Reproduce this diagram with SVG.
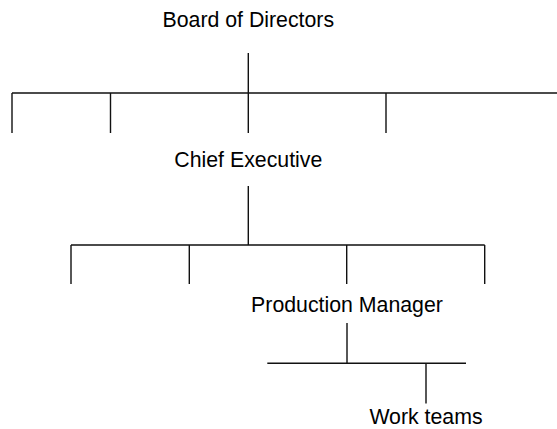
<svg xmlns="http://www.w3.org/2000/svg" width="557" height="429" viewBox="0 0 557 429">
<style>
.lbl{font-family:"Liberation Sans",Arial,Helvetica,sans-serif;font-size:21.3px;fill:#000;text-anchor:middle}
.ln{stroke:#111;stroke-width:1.4;fill:none}
</style>
<rect width="557" height="429" fill="#fff"/>
<g id="connectors">
<path class="ln" d="M248.3,53 V133 M12,93 H557 M12,93 V133 M110.5,93 V133 M386,93 V133"/>
<path class="ln" d="M248.3,186 V245 M71,245 H484.7 M71,245 V284 M189.3,245 V284 M346.7,245 V284 M484.7,245 V284"/>
<path class="ln" d="M347,323 V363.3 M267.3,363.3 H466 M426,363.3 V403.5"/>
</g>
<g id="board"><text class="lbl" x="248.3" y="27">Board of Directors</text></g>
<g id="chief"><text class="lbl" x="248.3" y="167">Chief Executive</text></g>
<g id="production"><text class="lbl" x="347" y="311.5">Production Manager</text></g>
<g id="work"><text class="lbl" x="426" y="424">Work teams</text></g>
</svg>
